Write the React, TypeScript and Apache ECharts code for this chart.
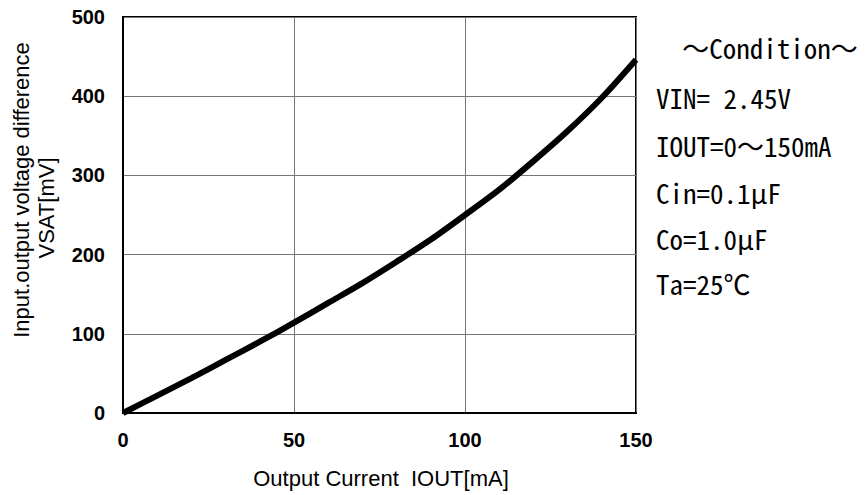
import React, { useEffect, useRef } from "react";
import * as echarts from "echarts";

const currentMA = [0, 10, 20, 30, 40, 50, 60, 70, 80, 90, 100, 110, 120, 130, 140, 150];
const vsatMV = [0, 22, 44, 67, 90, 114, 139, 164, 191, 219, 250, 282, 318, 356, 398, 446];
const conditionLines = [
  "～Condition～",
  "VIN= 2.45V",
  "IOUT=0～150mA",
  "Cin=0.1μF",
  "Co=1.0μF",
  "Ta=25℃",
];
const xTitle = "Output Current  IOUT[mA]";
const yTitle1 = "Input.output voltage difference";
const yTitle2 = "VSAT[mV]";

export default function App() {
  const ref = useRef<HTMLDivElement>(null);
  useEffect(() => {
    if (!ref.current) return;
    const chart = echarts.init(ref.current, null, { renderer: "svg" });
    const condFont = "'Noto Sans Mono CJK JP', 'Noto Sans CJK JP', 'DejaVu Sans Mono', monospace";
    const condY = [47, 97, 145, 192, 238, 283];
    const titleFont = "'Liberation Sans', Arial, sans-serif";
    chart.setOption({
      animation: false,
      backgroundColor: "#fff",
      grid: {
        left: 123,
        top: 17,
        width: 513,
        height: 396,
        show: true,
        borderColor: "#000",
        borderWidth: 2,
        backgroundColor: "transparent",
      },
      xAxis: {
        type: "value",
        min: 0,
        max: 150,
        interval: 50,
        axisLine: { show: true, lineStyle: { color: "#000", width: 2 } },
        axisTick: { show: false },
        axisLabel: {
          margin: 17,
          color: "#000",
          fontSize: 20,
          fontWeight: "bold",
          fontFamily: titleFont,
        },
        splitLine: { show: true, lineStyle: { color: "#777", width: 1 } },
      },
      yAxis: {
        type: "value",
        min: 0,
        max: 500,
        interval: 100,
        axisLine: { show: true, lineStyle: { color: "#000", width: 2 } },
        axisTick: { show: false },
        axisLabel: {
          margin: 18,
          color: "#000",
          fontSize: 20,
          fontWeight: "bold",
          fontFamily: titleFont,
        },
        splitLine: { show: true, lineStyle: { color: "#777", width: 1 } },
      },
      graphic: [
        {
          type: "text",
          x: 381,
          y: 478,
          style: {
            text: xTitle,
            fill: "#000",
            font: `22px ${titleFont}`,
            textAlign: "center",
            textVerticalAlign: "middle",
          },
        },
        {
          type: "text",
          x: 21,
          y: 190,
          rotation: Math.PI / 2,
          style: {
            text: yTitle1,
            fill: "#000",
            font: `22px ${titleFont}`,
            textAlign: "center",
            textVerticalAlign: "middle",
          },
        },
        {
          type: "text",
          x: 46,
          y: 208,
          rotation: Math.PI / 2,
          style: {
            text: yTitle2,
            fill: "#000",
            font: `22px ${titleFont}`,
            textAlign: "center",
            textVerticalAlign: "middle",
          },
        },
        ...conditionLines.map((t, i) => ({
          type: "text",
          x: i === 0 ? 770 : 656,
          y: condY[i],
          style: {
            text: t,
            fill: "#000",
            font: `27px ${condFont}`,
            textAlign: i === 0 ? "center" : "left",
            textVerticalAlign: "middle",
          },
        })),
      ],
      series: [
        {
          type: "line",
          data: currentMA.map((x, i) => [x, vsatMV[i]]),
          smooth: 0.3,
          showSymbol: false,
          lineStyle: { color: "#000", width: 6 },
          clip: false,
        },
      ],
    });
    return () => chart.dispose();
  }, []);
  return (
    <div
      ref={ref}
      style={{ position: "fixed", left: 0, top: 0, width: 868, height: 495 }}
    />
  );
}
